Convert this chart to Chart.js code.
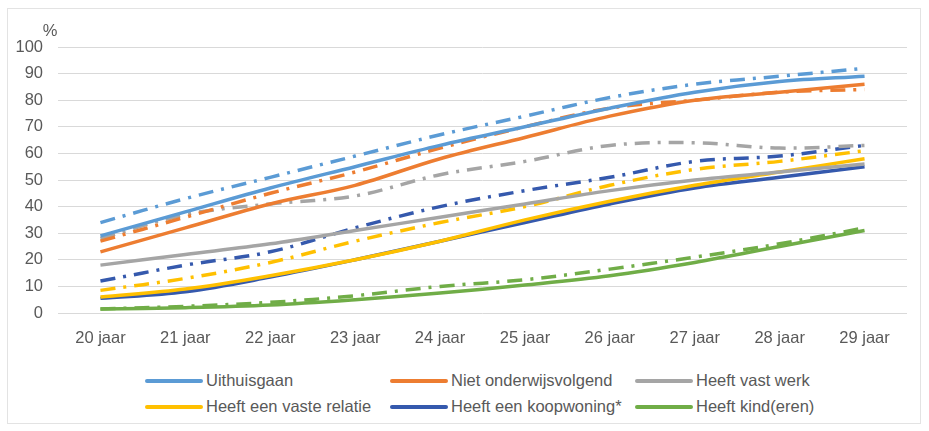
<!DOCTYPE html>
<html>
<head>
<meta charset="utf-8">
<script src="https://cdn.jsdelivr.net/npm/chart.js@4.4.1/dist/chart.umd.min.js"></script>
<style>
  body { margin: 0; background: #fff; font-family: "Liberation Sans", Arial, sans-serif; }
  #frame { position: absolute; left: 7px; top: 8px; width: 914px; height: 416px; border: 1px solid #e3e3e3; box-sizing: border-box; }
  #wrap { position: absolute; left: 8px; top: 8px; width: 913px; height: 350px; }
  #legend { position: absolute; left: 145px; top: 370px; display: grid; grid-template-columns: 245px 245px 245px; row-gap: 5px; }
  .item { display: flex; align-items: center; font-size: 16.5px; color: #595959; height: 21px; }
  .sw { width: 58px; height: 4px; margin-right: 3px; border-radius: 2px; }
</style>
</head>
<body>
<div id="frame"></div>
<div id="wrap"><canvas id="chart"></canvas></div>
<div id="legend"></div>
<script>
const leeftijden = ['20 jaar', '21 jaar', '22 jaar', '23 jaar', '24 jaar', '25 jaar', '26 jaar', '27 jaar', '28 jaar', '29 jaar'];
const reeksen = ['Uithuisgaan', 'Niet onderwijsvolgend', 'Heeft vast werk', 'Heeft een vaste relatie', 'Heeft een koopwoning*', 'Heeft kind(eren)'];
const kleuren = ['#5B9BD5', '#ED7D31', '#A5A5A5', '#FFC000', '#3559AD', '#70AD47'];

// doorgetrokken lijnen
const uithuisgaan   = [29, 38, 47, 55, 63, 70, 77, 83, 87, 89];
const nietOnderwijs = [23, 32, 41, 48, 58, 66, 74, 80, 83, 86];
const vastWerk      = [18, 22, 26, 31, 36, 41, 46, 50, 53, 56];
const vasteRelatie  = [6, 9, 14, 20, 27, 35, 42, 48, 53, 58];
const koopwoning    = [5.5, 8, 13.5, 20, 27, 34, 41, 47, 51, 55];
const kinderen      = [1.5, 2, 3, 5, 7.5, 10.5, 14, 19, 25, 31];

// streep-punt lijnen
const uithuisgaanRef   = [34, 43, 51, 59, 67, 74, 81, 86, 89, 92];
const nietOnderwijsRef = [27, 36, 45, 53, 62, 70, 77, 80, 83, 84];
const vastWerkRef      = [28, 37, 41, 44, 52, 57, 63, 64, 62, 63];
const vasteRelatieRef  = [8.5, 13, 19, 27, 34, 40, 48, 54, 57, 61];
const koopwoningRef    = [12, 18, 23, 32, 40, 46, 51, 57, 59, 63];
const kinderenRef      = [1.5, 2.5, 4, 6.5, 10, 12.5, 16.5, 21, 26, 32];

const yTicks = [0, 10, 20, 30, 40, 50, 60, 70, 80, 90, 100];

const solid = [uithuisgaan, nietOnderwijs, vastWerk, vasteRelatie, koopwoning, kinderen];
const dashed = [uithuisgaanRef, nietOnderwijsRef, vastWerkRef, vasteRelatieRef, koopwoningRef, kinderenRef];

const datasets = [];
solid.forEach((d, i) => datasets.push({
    label: reeksen[i], data: d, borderColor: kleuren[i], borderWidth: 3.5,
    pointRadius: 0, tension: 0.35, fill: false
}));
dashed.forEach((d, i) => datasets.push({
    label: reeksen[i] + ' (ref)', data: d, borderColor: kleuren[i], borderWidth: 3.5,
    borderDash: [15, 8, 3, 8], pointRadius: 0, tension: 0.35, fill: false
}));

const procent = {
    id: 'procent',
    afterDraw(chart) {
        const c = chart.ctx;
        c.save();
        c.font = '16.5px "Liberation Sans", Arial, sans-serif';
        c.fillStyle = '#595959';
        c.textAlign = 'center';
        c.textBaseline = 'middle';
        c.fillText('%', 42, chart.chartArea.top - 16);
        c.restore();
    }
};

const tickFont = { size: 16.5, family: '"Liberation Sans", Arial, sans-serif' };

new Chart(document.getElementById('chart'), {
    type: 'line',
    data: { labels: leeftijden, datasets: datasets },
    options: {
        responsive: true,
        maintainAspectRatio: false,
        animation: false,
        layout: { padding: { top: 39, right: 14, left: 0, bottom: 0 } },
        plugins: { legend: { display: false }, tooltip: { enabled: false } },
        scales: {
            x: {
                offset: true,
                grid: { display: false, drawTicks: false },
                border: { display: false },
                ticks: { color: '#595959', font: tickFont, padding: 16, maxRotation: 0 },
                afterFit: s => { s.height = 45; }
            },
            y: {
                min: 0, max: 100,
                afterBuildTicks: s => { s.ticks = yTicks.map(v => ({ value: v })); },
                grid: { color: '#d9d9d9', lineWidth: 1, drawTicks: false },
                border: { display: false },
                ticks: { color: '#595959', font: tickFont, padding: 15 },
                afterFit: s => { s.width = 50; }
            }
        }
    },
    plugins: [procent]
});

const legend = document.getElementById('legend');
reeksen.forEach((naam, i) => {
    const item = document.createElement('div');
    item.className = 'item';
    const sw = document.createElement('span');
    sw.className = 'sw';
    sw.style.background = kleuren[i];
    const t = document.createElement('span');
    t.textContent = naam;
    item.appendChild(sw);
    item.appendChild(t);
    legend.appendChild(item);
});
</script>
</body>
</html>
